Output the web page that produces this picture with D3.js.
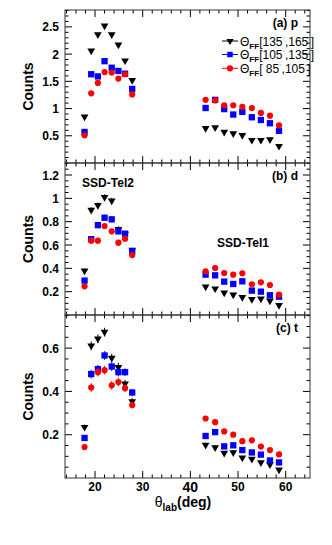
<!DOCTYPE html>
<html>
<head>
  <style>
    body { margin: 0; padding: 0; background: white; }
    svg { display: block; font-family: "Liberation Sans", Arial, sans-serif; font-weight: bold; }
  </style>
</head>
<body>
  <div id="chart"></div>
  <script src="https://cdnjs.cloudflare.com/ajax/libs/d3/7.8.5/d3.min.js"></script>
  <script>
    // angles (deg) of the two telescopes
    const thetaTel2 = [17.8, 19.2, 20.6, 22.0, 23.5, 24.9, 26.3, 27.8];
    const thetaTel1 = [43.2, 45.2, 47.1, 49.0, 50.9, 52.9, 54.8, 56.7, 58.6];
    const theta = thetaTel2.concat(thetaTel1);

    // (a) p
    const pBack  = [0.85, 2.06, 2.36, 2.52, 2.36, 2.17, 1.88, 1.52,  0.64, 0.65, 0.57, 0.54, 0.51, 0.42, 0.42, 0.43, 0.31];
    const pMid   = [0.57, 1.63, 1.59, 1.87, 1.75, 1.69, 1.64, 1.36,  1.01, 1.16, 0.99, 0.89, 0.94, 0.84, 0.79, 0.73, 0.59];
    const pFwd   = [0.51, 1.28, 1.47, 1.67, 1.66, 1.55, 1.63, 1.26,  1.16, 1.15, 1.06, 1.06, 1.03, 1.01, 0.92, 0.87, 0.69];
    const pErr   = [0.02, 0.03, 0.03, 0.03, 0.03, 0.03, 0.03, 0.03,  0.01, 0.01, 0.01, 0.01, 0.01, 0.01, 0.01, 0.01, 0.01];
    // (b) d
    const dBack  = [0.38, 0.90, 0.94, 1.01, 0.98, 0.735, 0.695, 0.557,  0.243, 0.226, 0.19, 0.174, 0.152, 0.135, 0.14, 0.123, 0.083];
    const dMid   = [0.295, 0.65, 0.77, 0.834, 0.82, 0.717, 0.697, 0.546,  0.346, 0.34, 0.286, 0.266, 0.289, 0.209, 0.20, 0.169, 0.157];
    const dFwd   = [0.246, 0.637, 0.637, 0.763, 0.717, 0.62, 0.654, 0.514,  0.375, 0.403, 0.36, 0.346, 0.357, 0.263, 0.28, 0.257, 0.174];
    const dErr   = [0.015, 0.025, 0.025, 0.025, 0.025, 0.025, 0.02, 0.02,  0.008, 0.008, 0.008, 0.008, 0.008, 0.008, 0.008, 0.008, 0.008];
    // (c) t
    const tBack  = [0.235, 0.611, 0.643, 0.674, 0.554, 0.512, 0.435, 0.354,  0.152, 0.141, 0.115, 0.118, 0.094, 0.088, 0.072, 0.062, 0.038];
    const tMid   = [0.185, 0.48, 0.503, 0.566, 0.515, 0.489, 0.489, 0.395,  0.194, 0.212, 0.146, 0.151, 0.129, 0.118, 0.108, 0.081, 0.072];
    const tFwd   = [0.143, 0.418, 0.489, 0.498, 0.428, 0.443, 0.415, 0.337,  0.275, 0.258, 0.215, 0.20, 0.17, 0.174, 0.145, 0.129, 0.109];
    const tErr   = [0.012, 0.02, 0.02, 0.02, 0.02, 0.02, 0.018, 0.015,  0.01, 0.01, 0.01, 0.01, 0.008, 0.008, 0.008, 0.008, 0.008];

    const legendRanges = [['135', '165'], ['105', '135'], [' 85', '105']];
    const seriesColors = ['#000000', '#0000ff', '#ff0000'];
    const seriesShapes = [d3.symbolTriangle, d3.symbolSquare, d3.symbolCircle];

    const panels = [
      { label: '(a) p', series: [pBack, pMid, pFwd], err: pErr, domain: [0, 2.81], ticks: [0.5, 1, 1.5, 2, 2.5], minor: 0.1, fmt: d3.format('') },
      { label: '(b) d', series: [dBack, dMid, dFwd], err: dErr, domain: [0, 1.303], ticks: [0.2, 0.4, 0.6, 0.8, 1, 1.2], minor: 0.05, fmt: d3.format('') },
      { label: '(c) t', series: [tBack, tMid, tFwd], err: tErr, domain: [0, 0.753], ticks: [0.2, 0.4, 0.6], minor: 0.05, fmt: d3.format('') }
    ];
    const xTicks = [20, 30, 40, 50, 60];

    const width = 332, height = 545;
    const left = 65, right = 310;
    const bounds = [10, 163, 315, 478];

    const svg = d3.select('#chart').append('svg')
      .attr('width', width).attr('height', height);

    const x = d3.scaleLinear().domain([13.7, 65.1]).range([left, right]);

    panels.forEach((p, i) => {
      const top = bounds[i], bottom = bounds[i + 1];
      const y = d3.scaleLinear().domain(p.domain).range([bottom, top]);
      const g = svg.append('g');

      // ticks on all four sides, pointing in
      const yMinor = d3.range(p.minor, p.domain[1], p.minor).filter(v => !p.ticks.some(t => Math.abs(t - v) < 1e-6));
      const xMinor = d3.range(14, 65, 2).filter(v => v % 10 !== 0);
      const tickSets = [
        { vals: p.ticks, len: 7 }, { vals: yMinor, len: 3.5 }
      ];
      tickSets.forEach(s => {
        s.vals.forEach(v => {
          g.append('line').attr('x1', left).attr('x2', left + s.len)
            .attr('y1', y(v)).attr('y2', y(v)).attr('stroke', '#000');
          g.append('line').attr('x1', right).attr('x2', right - s.len)
            .attr('y1', y(v)).attr('y2', y(v)).attr('stroke', '#000');
        });
      });
      [{ vals: xTicks, len: 7 }, { vals: xMinor, len: 3.5 }].forEach(s => {
        s.vals.forEach(v => {
          g.append('line').attr('x1', x(v)).attr('x2', x(v))
            .attr('y1', bottom).attr('y2', bottom - s.len).attr('stroke', '#000');
          g.append('line').attr('x1', x(v)).attr('x2', x(v))
            .attr('y1', top).attr('y2', top + s.len).attr('stroke', '#000');
        });
      });

      g.append('rect').attr('x', left).attr('y', top)
        .attr('width', right - left).attr('height', bottom - top)
        .attr('fill', 'none').attr('stroke', '#333').attr('stroke-width', 1);

      // y tick labels
      g.selectAll('.ylab').data(p.ticks).enter().append('text')
        .attr('x', 59).attr('y', d => y(d) + 4.5)
        .attr('text-anchor', 'end').attr('font-size', 12)
        .text(d => p.fmt(d));

      g.append('text')
        .attr('transform', `translate(33,${(top + bottom) / 2}) rotate(-90)`)
        .attr('text-anchor', 'middle').attr('font-size', 14)
        .text('Counts');

      g.append('text').attr('x', 298).attr('y', top + 17)
        .attr('text-anchor', 'end').attr('font-size', 12)
        .text(p.label);

      // data: error bars then markers
      p.series.forEach((vals, k) => {
        const pts = vals.map((v, j) => ({ x: theta[j], y: v, e: p.err[j] }));
        g.selectAll(null).data(pts).enter().append('line')
          .attr('x1', d => x(d.x)).attr('x2', d => x(d.x))
          .attr('y1', d => y(d.y - d.e)).attr('y2', d => y(d.y + d.e))
          .attr('stroke', seriesColors[k]).attr('stroke-width', 1);
        const sym = d3.symbol().type(seriesShapes[k]).size(k === 0 ? 26 : (k === 1 ? 40 : 30));
        g.selectAll(null).data(pts).enter().append('path')
          .attr('d', sym)
          .attr('transform', d => `translate(${x(d.x)},${y(d.y)})${k === 0 ? ' rotate(180)' : ''}`)
          .attr('fill', seriesColors[k]);
      });
    });

    // x tick labels
    svg.selectAll('.xlab').data(xTicks).enter().append('text')
      .attr('x', d => x(d)).attr('y', d => d === 40 ? 492 : 491)
      .attr('text-anchor', 'middle').attr('font-size', d => d === 40 ? 14 : 12)
      .text(d => d);

    const xt = svg.append('text').attr('x', 183).attr('y', 507)
      .attr('text-anchor', 'middle').attr('font-size', 14);
    xt.append('tspan').attr('font-weight', 'normal').text('θ');
    xt.append('tspan').attr('font-size', 10).attr('dy', 4).text('lab');
    xt.append('tspan').attr('dy', -4).text('(deg)');

    // panel (b) telescope annotations
    svg.append('text').attr('x', 108).attr('y', 187).attr('text-anchor', 'middle')
      .attr('font-size', 12).text('SSD-Tel2');
    svg.append('text').attr('x', 243).attr('y', 247).attr('text-anchor', 'middle')
      .attr('font-size', 12).text('SSD-Tel1');

    // legend
    const legY = [41, 54.5, 68.3];
    legendRanges.forEach((r, k) => {
      const lg = svg.append('g').attr('transform', `translate(0,${legY[k]})`);
      lg.append('line').attr('x1', 222).attr('x2', 238).attr('y1', 0).attr('y2', 0)
        .attr('stroke', seriesColors[k]).attr('stroke-width', 1);
      const sym = d3.symbol().type(seriesShapes[k]).size(k === 0 ? 22 : 30);
      lg.append('path').attr('d', sym)
        .attr('transform', `translate(230,0)${k === 0 ? ' rotate(180)' : ''}`)
        .attr('fill', seriesColors[k]);
      const t = lg.append('text').attr('x', 240).attr('y', 4.5).attr('font-size', 12)
        .attr('font-weight', 'normal').attr('xml:space', 'preserve');
      t.append('tspan').text('Θ');
      t.append('tspan').attr('font-size', 8).attr('font-weight', 'bold').attr('dy', 3).text('FF');
      t.append('tspan').attr('dy', -3).text('[' + r[0]);
      t.append('tspan').attr('font-size', 6).attr('dy', -5).attr('fill', '#999').text('°');
      t.append('tspan').attr('dy', 5).text(',' + r[1]);
      t.append('tspan').attr('font-size', 6).attr('dy', -5).attr('fill', '#999').text('°');
      t.append('tspan').attr('dy', 5).text(']');
    });
  </script>
</body>
</html>
